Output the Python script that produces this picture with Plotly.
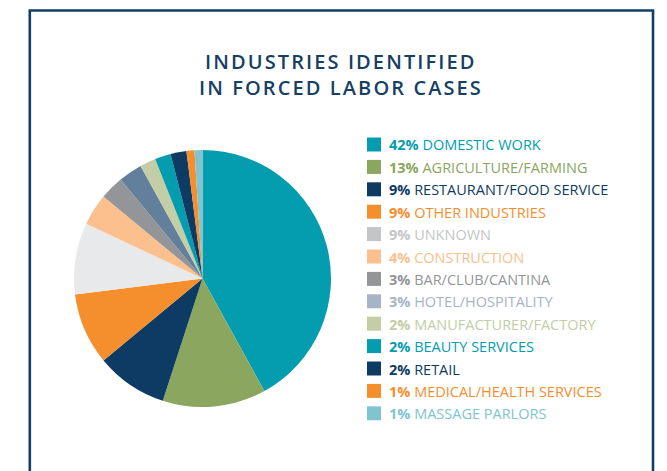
import plotly.graph_objects as go

# ---- data ----
categories = ["DOMESTIC WORK", "AGRICULTURE/FARMING", "RESTAURANT/FOOD SERVICE",
              "OTHER INDUSTRIES", "UNKNOWN", "CONSTRUCTION", "BAR/CLUB/CANTINA",
              "HOTEL/HOSPITALITY", "MANUFACTURER/FACTORY", "BEAUTY SERVICES",
              "RETAIL", "MEDICAL/HEALTH SERVICES", "MASSAGE PARLORS"]
percents = [42, 13, 9, 9, 9, 4, 3, 3, 2, 2, 2, 1, 1]
slice_colors = ["#049DB0", "#8AA65F", "#0E3B63", "#F58E2D", "#E8E9EA", "#FBC08E",
                "#939598", "#62809B", "#C3CDA6", "#049DB0", "#0E3B63", "#F58E2D", "#80C4D0"]
legend_colors = ["#049DB0", "#8AA65F", "#0E3B63", "#F58E2D", "#C4C5C7", "#FBC08E",
                 "#939598", "#A6B4C6", "#C3CDA6", "#049DB0", "#0E3B63", "#F58E2D", "#80C4D0"]
title_lines = ["INDUSTRIES IDENTIFIED", "IN FORCED LABOR CASES"]

W, H = 667, 471
NAVY = "#0F3F66"

def px(x):
    return x / W

def py(y):
    return 1 - y / H

# pie geometry
cx, cy, r = 202.5, 278.5, 128.5

fig = go.Figure()
fig.add_trace(go.Pie(
    labels=categories, values=percents, sort=False, direction="clockwise",
    rotation=0, marker=dict(colors=slice_colors, line=dict(width=0)),
    textinfo="none", hoverinfo="none", showlegend=False,
    domain=dict(x=[px(cx - r), px(cx + r)], y=[py(cy + r), py(cy - r)]),
))

shapes = []
annotations = []

# frame (open at the bottom)
x_l, x_r, y_t = 29.8, 653.0, 10.5
shapes.append(dict(type="path", xref="paper", yref="paper",
                   path=f"M {px(x_l)},{py(H + 10)} L {px(x_l)},{py(y_t)} L {px(x_r)},{py(y_t)} L {px(x_r)},{py(H + 10)}",
                   line=dict(color=NAVY, width=2.6)))

# title (two lines, placed separately for exact line spacing)
for t, yy in zip(title_lines, [62.0, 87.3]):
    annotations.append(dict(
        x=px(340.5), y=py(yy), xref="paper", yref="paper", xanchor="center", yanchor="middle",
        text=f"<span style='letter-spacing:2.1px'>{t}</span>",
        showarrow=False, align="center",
        font=dict(family="Open Sans", size=20, color="#163F63", weight=600),
    ))

# legend
row0, gap = 144.5, 22.4
sq = 14
sx = 367
for i, (cat, p, col) in enumerate(zip(categories, percents, legend_colors)):
    yc = row0 + gap * i
    shapes.append(dict(type="rect", xref="paper", yref="paper",
                       x0=px(sx), x1=px(sx + sq), y0=py(yc + sq / 2), y1=py(yc - sq / 2),
                       fillcolor=col, line=dict(width=0)))
    annotations.append(dict(
        x=px(387), y=py(yc + 0.5), xref="paper", yref="paper", xanchor="left", yanchor="middle",
        text=f"<b>{p}%</b> {cat}", showarrow=False,
        font=dict(family="Open Sans", size=14.5, color=col),
    ))

fig.update_layout(
    width=W, height=H, margin=dict(l=0, r=0, t=0, b=0),
    paper_bgcolor="white", plot_bgcolor="white",
    shapes=shapes, annotations=annotations,
)

fig.write_html("out.html", config={"displayModeBar": False},
               post_script="document.body.style.margin='0';")
